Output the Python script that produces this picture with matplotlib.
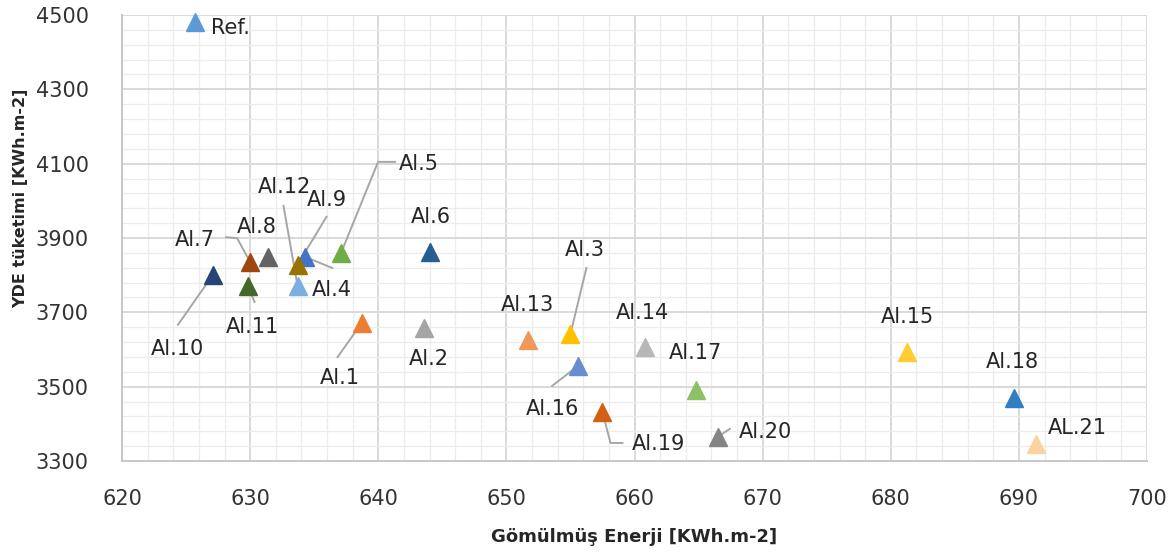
import matplotlib.pyplot as plt
from matplotlib.ticker import MultipleLocator
import numpy as np

plt.rcParams['font.family'] = ['DejaVu Sans']

# data
names = ["Ref.", "Al.1", "Al.2", "Al.3", "Al.4", "Al.5", "Al.6", "Al.7", "Al.8",
         "Al.9", "Al.10", "Al.11", "Al.12", "Al.13", "Al.14", "Al.15", "Al.16",
         "Al.17", "Al.18", "Al.19", "Al.20", "AL.21"]
energy = [625.7, 638.7, 643.6, 655.0, 634.3, 637.1, 644.0, 630.0, 631.4,
          633.7, 627.1, 629.8, 633.7, 651.7, 660.8, 681.3, 655.6,
          664.8, 689.6, 657.5, 666.5, 691.3]
yde = [4481, 3671, 3658, 3642, 3849, 3860, 3863, 3835, 3849,
       3828, 3801, 3771, 3771, 3626, 3607, 3593, 3556,
       3491, 3470, 3432, 3365, 3346]
colors = ["#5B9BD5", "#ED7D31", "#A5A5A5", "#FFC000", "#4472C4", "#70AD47",
          "#255E91", "#9E480E", "#636363", "#997300", "#264478", "#43682B",
          "#7CAFDD", "#F1975A", "#B7B7B7", "#FFCD33", "#698ED0", "#8CC168",
          "#327DC2", "#D26012", "#848484", "#FAD3A0"]
yticks = [3300, 3500, 3700, 3900, 4100, 4300, 4500]

# label layout: text offset in pixels (right, down) from marker, leader path
lab_off = {"Ref.": (35, 6), "Al.1": (-22, 55), "Al.2": (4, 31), "Al.3": (14, -84),
           "Al.4": (27, 33), "Al.5": (78, -89), "Al.6": (1, -35), "Al.7": (-55, -22),
           "Al.8": (-11, -30), "Al.9": (29, -65), "Al.10": (-36, 74), "Al.11": (5, 41),
           "Al.12": (-13, -99), "Al.13": (-1, -35), "Al.14": (-2, -34), "Al.15": (0, -35),
           "Al.16": (-26, 43), "Al.17": (-1, -37), "Al.18": (-1, -36), "Al.19": (56, 32),
           "Al.20": (48, -5), "AL.21": (42, -16)}
leaders = {"Al.1": [(-24, 34)], "Al.3": [(16, -66)], "Al.4": [(27, 11)],
           "Al.5": [(37, -91), (54, -91)], "Al.7": [(-13, -24), (-24, -25)],
           "Al.9": [(29, -48)], "Al.10": [(-35, 50)], "Al.11": [(7, 16)],
           "Al.12": [(-14, -80)], "Al.16": [(-26, 20)],
           "Al.19": [(8, 31), (20, 31)], "Al.20": [(12, -8)]}

fig = plt.figure(figsize=(11.75, 5.55), dpi=100)
ax = fig.add_axes([122/1175, 1-461/555, 1025/1175, 446/555])
ax.set_xlim(620, 700)
ax.set_ylim(3300, 4500)
ax.xaxis.set_major_locator(MultipleLocator(10))
ax.xaxis.set_minor_locator(MultipleLocator(2))
ax.set_yticks(yticks)
ax.set_yticks(np.arange(3300, 4501, 40), minor=True)
ax.grid(which="major", color="#d9d9d9", lw=1.4, zorder=0)
ax.grid(which="minor", color="#ececec", lw=0.9, zorder=0)
ax.set_axisbelow(True)
ax.tick_params(which="both", length=0, labelsize=15, colors="#333333")
ax.tick_params(axis="x", pad=20)
ax.tick_params(axis="y", pad=24)
for s in ["top", "right"]:
    ax.spines[s].set_visible(False)
for s in ["left", "bottom"]:
    ax.spines[s].set_color("#c8c8c8")
    ax.spines[s].set_linewidth(1.4)

for i in range(len(names)):
    ax.plot(energy[i], yde[i], "^", ms=13, color=colors[i], zorder=3, clip_on=False)

def off(x, y, dx, dy):
    px, py = ax.transData.transform((x, y))
    return ax.transData.inverted().transform((px + dx, py - dy))

for i, n in enumerate(names):
    x, y = energy[i], yde[i]
    if n in leaders:
        pts = [(x, y)] + [tuple(off(x, y, dx, dy)) for dx, dy in leaders[n]]
        pts = np.array(pts)
        ax.plot(pts[:, 0], pts[:, 1], color="#a6a6a6", lw=1.4, zorder=2)
    tx, ty = off(x, y, *lab_off[n])
    ax.text(tx, ty, n, fontsize=15, ha="center", va="center", color="#262626", zorder=4)

fig.text(634/1175, 1-537/555, "Gömülmüş Enerji [KWh.m-2]", fontsize=13,
         fontweight="bold", ha="center", va="center", color="#262626")
fig.text(21/1175, 1-198/555, "YDE tüketimi [KWh.m-2]", fontsize=11.5,
         fontweight="bold", ha="center", va="center", rotation=90, color="#262626")

fig.savefig("out.png", dpi=100)
